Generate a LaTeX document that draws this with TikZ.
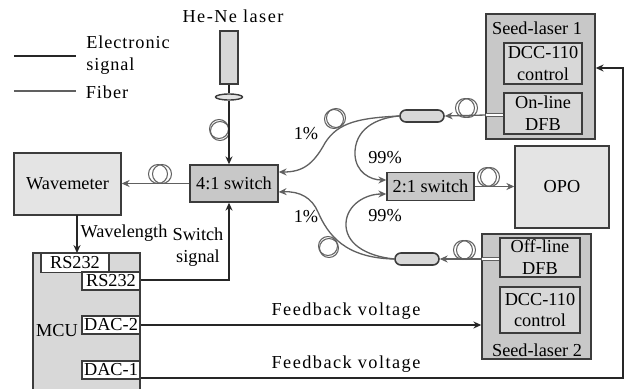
\documentclass[tikz,border=0pt]{standalone}
\usepackage{fontspec}
\setmainfont{Liberation Serif}
\usetikzlibrary{shapes.misc,shapes.geometric,arrows.meta}
\definecolor{edgegray}{HTML}{3C3C3C}
\definecolor{fibergray}{HTML}{606060}
\definecolor{darkfill}{HTML}{C8C8C8}
\definecolor{midfill}{HTML}{D8D8D8}
\definecolor{lightfill}{HTML}{E4E4E4}
\tikzset{
  box/.style={draw=edgegray,line width=.8pt,inner sep=0pt,align=center,font=\fontsize{10.4}{12.5}\selectfont},
  txt/.style={inner sep=0pt,align=center,font=\fontsize{10.4}{12.5}\selectfont},
  widetxt/.style={inner sep=0pt,align=left,font=\fontsize{10.4}{12.5}\selectfont\addfontfeature{LetterSpace=5}},
  widertxt/.style={inner sep=0pt,align=left,font=\fontsize{10.4}{12.5}\selectfont\addfontfeature{LetterSpace=8}},
  fiber/.style={draw=fibergray,line width=.75pt},
  wire/.style={draw=black!85,line width=.8pt},
  coil/.style={draw=fibergray,line width=.6pt},
  coupler/.style={rounded rectangle,draw=edgegray,line width=.9pt,fill=midfill,minimum width=.88cm,minimum height=.24cm,inner sep=0pt}
}
\begin{document}
\begin{tikzpicture}[x=.02cm,y=-.02cm,>={Stealth[length=4.5pt,width=4pt]}]
\useasboundingbox (0,0) rectangle (627,389);
% boxes
\node[box,fill=darkfill,minimum width=2.18cm,minimum height=2.5cm] (seedA) at (540.5,76.5) {};
\node[box,fill=darkfill,minimum width=2.18cm,minimum height=2.5cm] (seedB) at (536.5,296.5) {};
\node[box,fill=midfill,minimum width=2.14cm,minimum height=2.76cm] (mcu) at (86.5,322) {};
\node[txt] (seedAlabel) at (537,28) {Seed-laser 1};
\node[txt] (seedBlabel) at (537,350) {Seed-laser 2};
\node[txt] (mculabel) at (57,331) {MCU};
\node[box,fill=midfill,minimum width=1.56cm,minimum height=.82cm] (dccA) at (543,63.5) {DCC-110\\control};
\node[box,fill=midfill,minimum width=1.56cm,minimum height=.82cm] (dfbA) at (543,113.5) {On-line\\DFB};
\node[box,fill=midfill,minimum width=1.6cm,minimum height=.78cm] (dfbB) at (540,257.5) {Off-line\\DFB};
\node[box,fill=midfill,minimum width=1.6cm,minimum height=.92cm] (dccB) at (540,310) {DCC-110\\control};
\node[box,fill=lightfill,minimum width=2.14cm,minimum height=1.24cm] (wave) at (67.5,184) {Wavemeter};
\node[box,fill=lightfill,minimum width=1.88cm,minimum height=1.64cm] (opo) at (562,187) {OPO};
\node[box,fill=darkfill,minimum width=1.76cm,minimum height=.74cm] (swA) at (234,183.5) {4:1 switch};
\node[box,fill=darkfill,minimum width=1.74cm,minimum height=.56cm] (swB) at (430.5,186.5) {2:1 switch};
\node[box,fill=white,minimum width=1.36cm,minimum height=.38cm] (rsA) at (75,263) {RS232};
\node[box,fill=white,minimum width=1.16cm,minimum height=.36cm] (rsB) at (111,281) {RS232};
\node[box,fill=white,minimum width=1.16cm,minimum height=.36cm] (dacB) at (111,325) {DAC-2};
\node[box,fill=white,minimum width=1.16cm,minimum height=.36cm] (dacA) at (111,370) {DAC-1};
\node[box,fill=midfill,minimum width=.36cm,minimum height=1.06cm] (laser) at (229,57.5) {};
\node[draw=edgegray,line width=.8pt,ellipse,fill=lightfill,minimum width=.54cm,minimum height=.12cm,inner sep=0pt] (lens) at (229,97) {};
\node[coupler] (cplA) at (422,116) {};
\node[coupler] (cplB) at (417,259) {};
% coils
\foreach \cx/\cy/\ox/\oy in {220/131/-1/-2, 162/174/-4/0, 336/118/-2/1, 468/108/-3/0, 490/177/-3/0, 329/248/-1/-2, 466/250/-3/0}{
  \draw[coil] (\cx+\ox,\cy+\oy) circle [radius=9.5];
  \draw[coil] (\cx,\cy) circle [radius=9.5];
}
% fibers
\coordinate (dfbAout) at (486,115);
\coordinate (dfbBout) at (482,259);
\draw[fiber,double,double distance=1.2pt,line width=.5pt] (dfbA.west |- dfbAout) -- (dfbAout);
\draw[fiber,double,double distance=1.2pt,line width=.5pt] (dfbB.west |- dfbBout) -- (dfbBout);
\draw[fiber,->] (dfbAout) -- (cplA.east);
\draw[fiber,->] (dfbBout) -- (cplB.east);
\draw[fiber,->] (cplA.west) .. controls (360,118) and (338,122) .. (325,143) .. controls (313,165) and (302,172) .. (swA.east |- 0,172);
\draw[fiber,->] (cplA.west) .. controls (375,118) and (354,130) .. (355,155) .. controls (356,172) and (370,180) .. (swB.west |- 0,180);
\draw[fiber,->] (cplB.west) .. controls (345,258) and (328,235) .. (318,212) .. controls (312,198) and (300,191) .. (swA.east |- 0,192);
\draw[fiber,->] (cplB.west) .. controls (365,256) and (345,243) .. (346,223) .. controls (347,205) and (365,194) .. (swB.west |- 0,194);
\draw[fiber,->] (swA.west) -- (wave.east |- swA.west);
\draw[fiber,->] (swB.east) -- (opo.west |- swB.east);
% signals
\coordinate (legA) at (14,56);
\coordinate (legB) at (76,56);
\coordinate (legC) at (14,91);
\coordinate (legD) at (76,91);
\coordinate (waveout) at (77,215);
\coordinate (mcuin) at (77,253);
\coordinate (turnA) at (229,280);
\coordinate (turnB) at (623,378);
\coordinate (turnC) at (623,68);
\draw[wire] (legA)--(legB);
\draw[fiber] (legC)--(legD);
\draw[wire] (laser)--(lens);
\draw[wire,->] (lens)--(swA.north -| lens);
\draw[wire,->] (waveout)--(mcuin);
\draw[wire,->] (rsB.east |- turnA)--(turnA)--(swA.south -| turnA);
\draw[wire,->,line width=1.1pt] (dacB.east)--(seedB.west |- dacB.east);
\draw[wire,->] (dacA.east |- turnB)--(turnB)--(turnC)--(seedA.east |- turnC);
% labels
\node[widertxt] (helabel) at (233,16) {He-Ne laser};
\node[widetxt] (eslabel) at (128,55) {Electronic\\signal};
\node[widetxt] (fiberlabel) at (107,92) {Fiber};
\node[txt] (wavelabel) at (124,233) {Wavelength};
\node[txt] (swlabel) at (198,247) {Switch\\signal};
\node[widertxt] (fbBlabel) at (346,311) {Feedback voltage};
\node[widertxt] (fbAlabel) at (346,364) {Feedback voltage};
\node[txt] (pctA) at (306,134) {1\%};
\node[txt] (pctB) at (306,217) {1\%};
\node[txt] (pctC) at (385,158) {99\%};
\node[txt] (pctD) at (385,216) {99\%};
\end{tikzpicture}
\end{document}
